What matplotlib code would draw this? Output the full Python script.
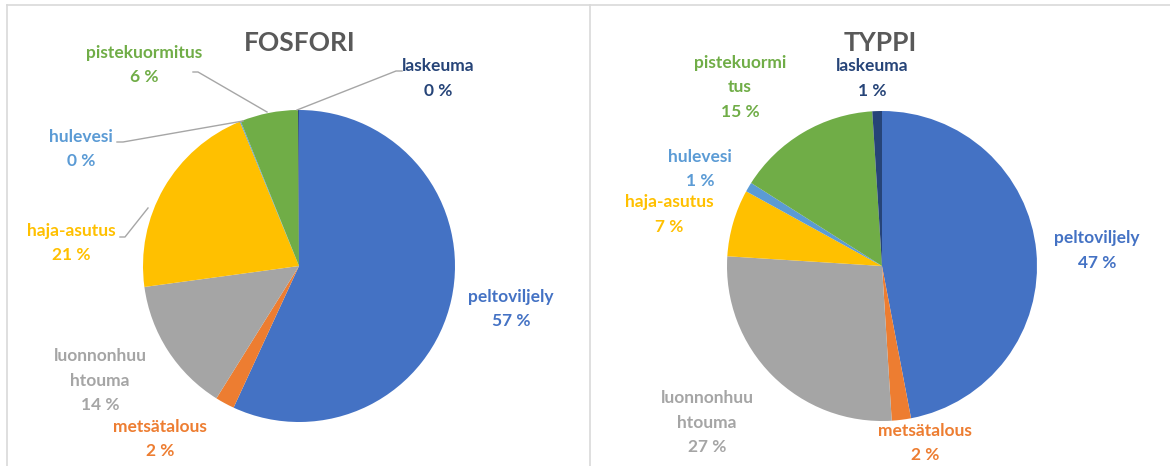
import matplotlib.pyplot as plt
from matplotlib.lines import Line2D

# data
sources = ['peltoviljely', 'metsätalous', 'luonnonhuu\nhtouma', 'haja-asutus',
           'hulevesi', 'pistekuormitus', 'laskeuma']
fosfori = [57, 2, 14, 21, 0.1, 6, 0.1]
fosfori_pct = ['57 %', '2 %', '14 %', '21 %', '0 %', '6 %', '0 %']
typpi = [47, 2, 27, 7, 1, 15, 1]
typpi_pct = ['47 %', '2 %', '27 %', '7 %', '1 %', '15 %', '1 %']
typpi_names = ['peltoviljely', 'metsätalous', 'luonnonhuu\nhtouma', 'haja-asutus',
               'hulevesi', 'pistekuormi\ntus', 'laskeuma']

colors = ['#4472C4', '#ED7D31', '#A5A5A5', '#FFC000', '#5B9BD5', '#70AD47', '#264478']

W, H = 1170, 466
fig = plt.figure(figsize=(W / 100, H / 100), dpi=100)
ax = fig.add_axes([0, 0, 1, 1])

# panel frames
border = '#D9D9D9'
ax.add_line(Line2D([7, W], [H - 5, H - 5], color=border, lw=1.2))
ax.add_line(Line2D([7, 7], [0, H - 5], color=border, lw=1.2))
ax.add_line(Line2D([590, 590], [0, H - 5], color=border, lw=1.2))

font = 'Lato'
title_col = '#595959'

# label positions (pixel coords from top)
pos_f = [(511, 297), (160, 427), (100, 356), (71, 231), (81, 137), (144, 53), (438, 66)]
pos_t = [(1097, 238), (925, 431), (707, 398), (669, 202), (700, 157), (740, 63), (872, 66)]

panels = [
    (fosfori, sources, fosfori_pct, (299, 266), 156, 'FOSFORI', 300, pos_f),
    (typpi, typpi_names, typpi_pct, (882, 266), 155, 'TYPPI', 880, pos_t),
]

for vals, names, pcts, (cx, cy), r, title, tx, pos in panels:
    ax.pie(vals, colors=colors, startangle=90, counterclock=False,
           center=(cx, H - cy), radius=r, frame=True,
           wedgeprops=dict(linewidth=0))
    ax.text(tx, H - 43, title, ha='center', va='center', fontsize=19,
            fontweight='bold', color=title_col, family=font)
    for name, pct, (px, py), c in zip(names, pcts, pos, colors):
        lines = name.split('\n') + [pct]
        for i, s in enumerate(lines):
            ax.text(px, H - (py + i * 24.5), s, ha='center', va='center',
                    fontsize=12.5, fontweight='bold', color=c, family=font)

# leader lines on the left panel
lead = '#A6A6A6'
leaders = [
    [(193, 72), (198, 72), (267, 112)],
    [(402, 71), (396, 71), (297, 110)],
    [(117, 142), (123, 142), (243, 121)],
    [(120, 237), (125, 237), (148, 208)],
]
for pts in leaders:
    xs = [p[0] for p in pts]
    ys = [H - p[1] for p in pts]
    ax.add_line(Line2D(xs, ys, color=lead, lw=1))

ax.set_xlim(0, W)
ax.set_ylim(0, H)
ax.set_aspect('equal')
ax.axis('off')

fig.savefig('out.png', dpi=100)
